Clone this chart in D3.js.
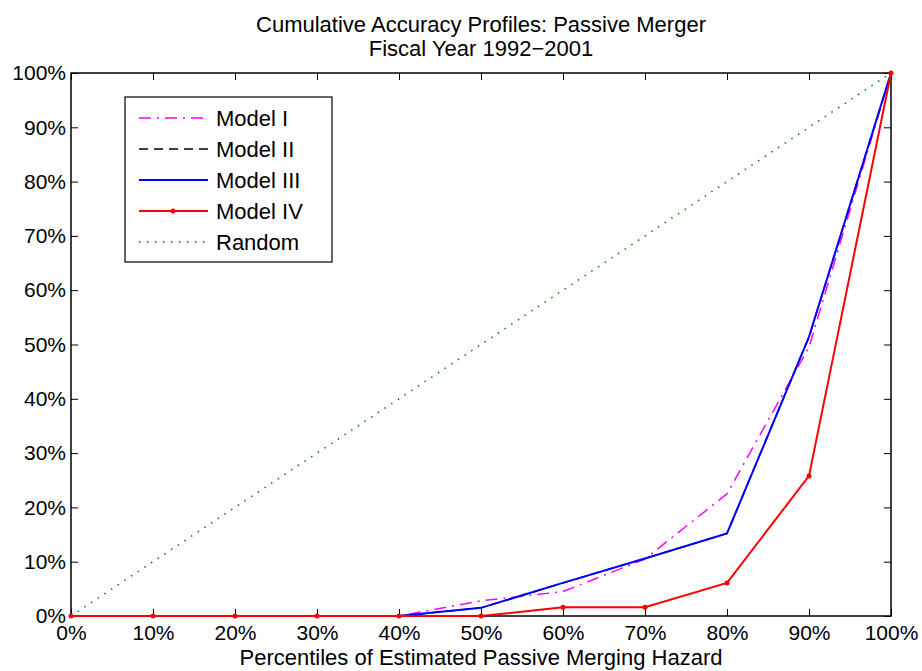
<!DOCTYPE html>
<html lang="en">
  <head>
    <meta charset="UTF-8" />
    <title>Cumulative Accuracy Profiles: Passive Merger</title>
    <script src="https://d3js.org/d3.v7.min.js"></script>
    <style>
      body { margin: 0; background: #fff; }
      text { font-family: "Liberation Sans", Arial, sans-serif; fill: #000; }
    </style>
  </head>
  <body>
    <div id="chart"></div>
    <script>
      // data (percent)
      const percentiles = [0, 10, 20, 30, 40, 50, 60, 70, 80, 90, 100];
      const model1 = [0, 0, 0, 0, 0, 2.8, 4.5, 10.5, 22.5, 49.5, 100];
      const model2 = [0, 0, 0, 0, 0, 1.5, 6.1, 10.6, 15.2, 51.4, 100];
      const model3 = [0, 0, 0, 0, 0, 1.5, 6.1, 10.6, 15.2, 51.4, 100];
      const model4 = [0, 0, 0, 0, 0, 0, 1.6, 1.6, 6.1, 25.8, 100];
      const random = [0, 10, 20, 30, 40, 50, 60, 70, 80, 90, 100];
      const tickValues = [0, 10, 20, 30, 40, 50, 60, 70, 80, 90, 100];

      const width = 922, height = 671;
      const margin = { left: 71, right: 31, top: 73, bottom: 55 };
      const fontSize = 22;
      const tickFont = 21;

      const svg = d3.select("#chart").append("svg")
        .attr("width", width).attr("height", height);

      const x = d3.scaleLinear().domain([0, 100]).range([margin.left, width - margin.right]);
      const y = d3.scaleLinear().domain([0, 100]).range([height - margin.bottom, margin.top]);

      const fmt = d => d + "%";

      // axes, MATLAB style: ticks inside, box on
      const tickLen = 7;
      svg.append("g").attr("transform", `translate(0,${y(0)})`)
        .call(d3.axisBottom(x).tickValues(tickValues).tickFormat(fmt).tickSizeInner(-tickLen).tickSizeOuter(0).tickPadding(9))
        .call(g => g.select(".domain").remove());
      svg.append("g").attr("transform", `translate(${x(0)},0)`)
        .call(d3.axisLeft(y).tickValues(tickValues).tickFormat(fmt).tickSizeInner(-tickLen).tickSizeOuter(0).tickPadding(5))
        .call(g => g.select(".domain").remove());
      svg.append("g").attr("transform", `translate(0,${y(100)})`)
        .call(d3.axisTop(x).tickValues(tickValues).tickFormat("").tickSizeInner(-tickLen).tickSizeOuter(0))
        .call(g => g.select(".domain").remove());
      svg.append("g").attr("transform", `translate(${x(100)},0)`)
        .call(d3.axisRight(y).tickValues(tickValues).tickFormat("").tickSizeInner(-tickLen).tickSizeOuter(0))
        .call(g => g.select(".domain").remove());
      svg.selectAll(".tick text").attr("font-size", tickFont).attr("font-family", "Liberation Sans, Arial, sans-serif");
      svg.selectAll(".tick line").attr("stroke", "#000").attr("stroke-width", 1);

      svg.append("rect")
        .attr("x", x(0)).attr("y", y(100))
        .attr("width", x(100) - x(0)).attr("height", y(0) - y(100))
        .attr("fill", "none").attr("stroke", "#000").attr("stroke-width", 1.5);

      const series = [
        { name: "Model I", values: model1, color: "#ff00ff", dash: "12,6,2,6", width: 1.5 },
        { name: "Model II", values: model2, color: "#000", dash: "9,6", width: 1.5 },
        { name: "Model III", values: model3, color: "#0000ff", dash: null, width: 2 },
        { name: "Model IV", values: model4, color: "#ff0000", dash: null, width: 2, marker: true },
        { name: "Random", values: random, color: "#008000", dash: "1.5,6.5", width: 1.5 }
      ];

      const line = d3.line().x((d, i) => x(percentiles[i])).y(d => y(d));

      const drawOrder = [4, 0, 1, 2, 3];
      drawOrder.forEach(k => {
        const s = series[k];
        svg.append("path")
          .datum(s.values)
          .attr("d", line)
          .attr("fill", "none")
          .attr("stroke", s.color)
          .attr("stroke-width", s.width)
          .attr("stroke-dasharray", s.dash);
        if (s.marker) {
          svg.selectAll(null).data(s.values).enter().append("circle")
            .attr("cx", (d, i) => x(percentiles[i]))
            .attr("cy", d => y(d))
            .attr("r", 2.5)
            .attr("fill", s.color);
        }
      });

      // titles
      const cx = (x(0) + x(100)) / 2;
      svg.append("text").attr("x", cx).attr("y", 32)
        .attr("text-anchor", "middle").attr("font-size", fontSize)
        .text("Cumulative Accuracy Profiles: Passive Merger");
      svg.append("text").attr("x", cx).attr("y", 56)
        .attr("text-anchor", "middle").attr("font-size", fontSize)
        .text("Fiscal Year 1992\u22122001");
      svg.append("text").attr("x", cx).attr("y", 665)
        .attr("text-anchor", "middle").attr("font-size", fontSize)
        .text("Percentiles of Estimated Passive Merging Hazard");

      // legend
      const legend = svg.append("g").attr("transform", "translate(125,97)");
      legend.append("rect").attr("width", 207).attr("height", 165)
        .attr("fill", "#fff").attr("stroke", "#000").attr("stroke-width", 1.2);
      const items = legend.selectAll(".legend-item").data(series).enter().append("g")
        .attr("class", "legend-item")
        .attr("transform", (d, i) => `translate(0,${21 + i * 31})`);
      items.append("line")
        .attr("x1", 14).attr("x2", 83).attr("y1", 0).attr("y2", 0)
        .attr("stroke", d => d.color)
        .attr("stroke-width", d => d.width)
        .attr("stroke-dasharray", d => d.dash);
      items.filter(d => d.marker).append("circle")
        .attr("cx", 48).attr("cy", 0).attr("r", 2.5).attr("fill", d => d.color);
      items.append("text").attr("x", 91).attr("y", 8)
        .attr("font-size", fontSize).text(d => d.name);
    </script>
  </body>
</html>
